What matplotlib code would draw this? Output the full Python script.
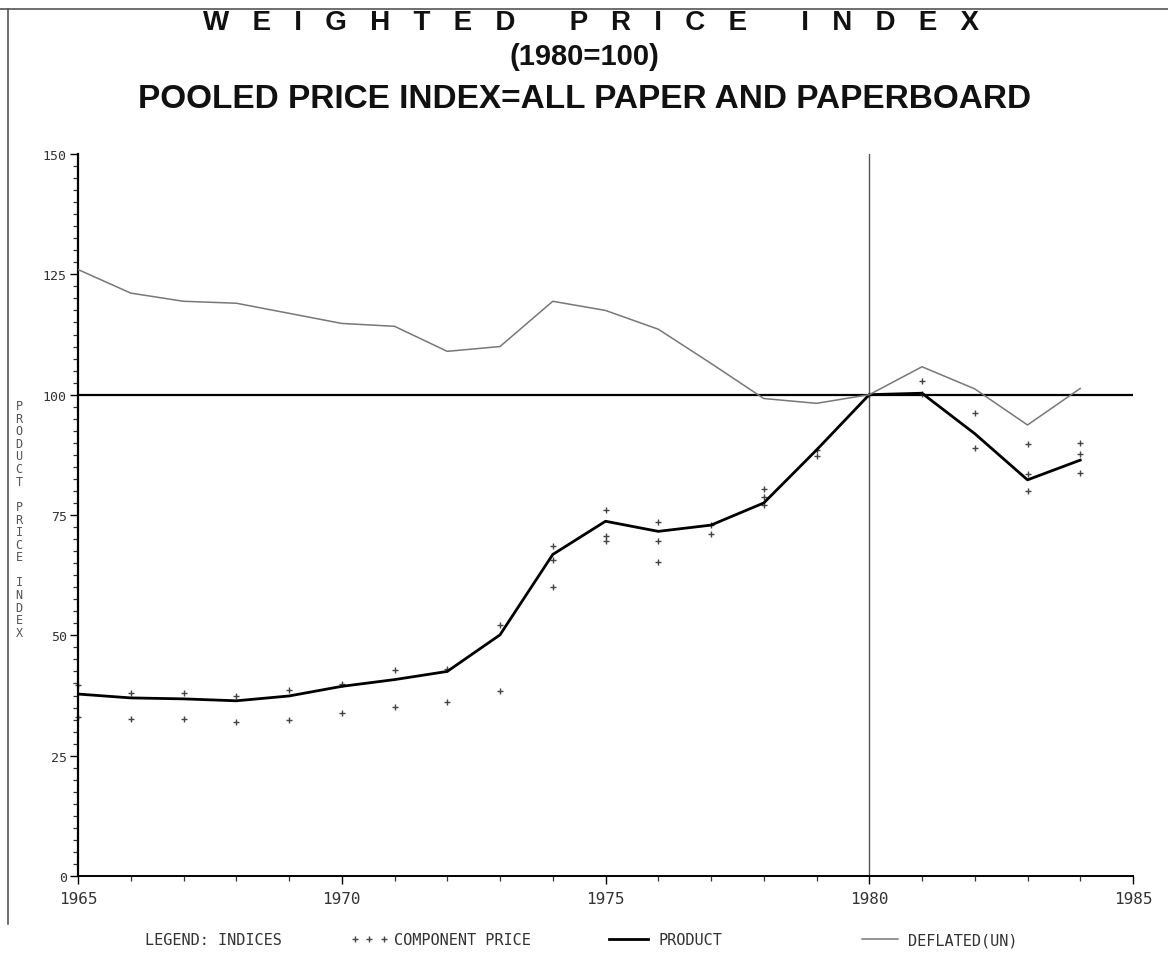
import numpy as np
import matplotlib
matplotlib.use("Agg")
import matplotlib.pyplot as plt
from matplotlib.lines import Line2D
from matplotlib.ticker import MultipleLocator

# --- data ---
years = [1965, 1966, 1967, 1968, 1969, 1970, 1971, 1972, 1973, 1974,
         1975, 1976, 1977, 1978, 1979, 1980, 1981, 1982, 1983, 1984]

product = [37.8, 37.0, 36.8, 36.4, 37.4, 39.4, 40.8, 42.5, 50.1, 66.8,
           73.7, 71.6, 72.9, 77.5, 88.5, 100.0, 100.3, 91.9, 82.3, 86.4]

deflated = [126.0, 121.1, 119.4, 119.0, 116.9, 114.8, 114.2, 109.0, 110.0, 119.4,
            117.5, 113.6, 106.5, 99.2, 98.2, 100.0, 105.8, 101.2, 93.7, 101.3]

# component price indices (several per year)
comp_years = [1965, 1965, 1966, 1966, 1967, 1967, 1968, 1968, 1969, 1969,
              1970, 1970, 1971, 1971, 1972, 1972, 1973, 1973,
              1974, 1974, 1974, 1975, 1975, 1975, 1976, 1976, 1976,
              1977, 1977, 1978, 1978, 1978, 1979, 1979, 1980,
              1981, 1981, 1982, 1982, 1983, 1983, 1983, 1984, 1984, 1984]
comp_values = [39.7, 33.0, 38.0, 32.6, 38.0, 32.6, 37.4, 31.9, 38.6, 32.4,
               39.9, 33.8, 42.8, 35.1, 43.0, 36.1, 52.2, 38.4,
               68.5, 65.6, 60.1, 76.0, 70.6, 69.5, 73.5, 69.5, 65.3,
               72.9, 71.0, 80.4, 78.7, 77.0, 88.5, 87.3, 100.0,
               102.9, 100.2, 96.2, 88.9, 89.8, 83.5, 80.0, 90.0, 87.7, 83.7]

y_ticks = [0, 25, 50, 75, 100, 125, 150]
x_ticks = [1965, 1970, 1975, 1980, 1985]
ylabel_text = "PRODUCT PRICE INDEX"

W, H = 1168, 970
fig = plt.figure(figsize=(W / 100, H / 100), dpi=100)
ax = fig.add_axes([78 / W, 1 - 877 / H, (1133 - 78) / W, (877 - 155) / H])

mono = "DejaVu Sans Mono"
sans = ["Liberation Sans", "DejaVu Sans"]

# reference lines
ax.axhline(100, color="black", lw=1.6, zorder=1)
ax.axvline(1980, color="#555555", lw=1.0, zorder=1)

# series
ax.plot(comp_years, comp_values, linestyle="none", marker="+", ms=5, mew=1.0,
        color="#444444", zorder=2, clip_on=False, label="COMPONENT PRICE")
ax.plot(years, product, color="black", lw=2.0, zorder=3, label="PRODUCT")
ax.plot(years, deflated, color="#777777", lw=1.1, zorder=3, label="DEFLATED(UN)")

ax.set_xlim(1965, 1985)
ax.set_ylim(0, 150)
ax.set_xticks(x_ticks)
ax.set_yticks(y_ticks)
ax.xaxis.set_minor_locator(MultipleLocator(1))
ax.yaxis.set_minor_locator(MultipleLocator(2.5))
ax.tick_params(axis="both", which="major", direction="out", length=6, width=1.0,
               color="black", labelcolor="#333333")
ax.tick_params(axis="both", which="minor", direction="out", length=3.5, width=0.9,
               color="#333333")
for lab in ax.get_xticklabels():
    lab.set_family(mono)
    lab.set_fontsize(11.5)
for lab in ax.get_yticklabels():
    lab.set_family(mono)
    lab.set_fontsize(9.5)
ax.tick_params(axis="x", pad=5)
ax.tick_params(axis="y", pad=2)

for side in ["top", "right"]:
    ax.spines[side].set_visible(False)
ax.spines["left"].set_linewidth(1.6)
ax.spines["bottom"].set_linewidth(1.4)

# stacked vertical axis label
fig.text(19 / W, 1 - 520 / H, "\n".join(ylabel_text), family=mono, fontsize=8.5,
         color="#555555", ha="center", va="center", linespacing=0.96)

# titles
fig.text(591 / W, 1 - 23 / H,
         "W   E   I   G   H   T   E   D       P   R   I   C   E       I   N   D   E   X",
         family=sans, fontsize=20, fontweight="bold", ha="center", va="center",
         color="#111111")
fig.text(584 / W, 1 - 57 / H, "(1980=100)", family=sans, fontsize=21,
         fontweight="bold", ha="center", va="center", color="#111111")
fig.text(585 / W, 1 - 99 / H, "POOLED PRICE INDEX=ALL PAPER AND PAPERBOARD",
         family=sans, fontsize=24, fontweight="bold", ha="center", va="center",
         color="#111111")

# legend row
leg_y = 1 - 941 / H
leg_font = {"family": mono, "size": 11}
fig.text(145 / W, leg_y, "LEGEND: INDICES", family=mono, fontsize=11,
         color="#333333", ha="left", va="center")
h_comp = Line2D([], [], linestyle="none", marker="+", ms=5, mew=1.0, color="#444444")
h_prod = Line2D([], [], color="black", lw=2.0)
h_defl = Line2D([], [], color="#777777", lw=1.1)
entries = [(h_comp, "COMPONENT PRICE", 350, 2.5),
           (h_prod, "PRODUCT", 604, 3.2),
           (h_defl, "DEFLATED(UN)", 857, 3.0)]
for handle, text, x0, hl in entries:
    leg = fig.legend([handle], [text], loc="center left",
                     bbox_to_anchor=(x0 / W, leg_y), frameon=False, numpoints=3,
                     borderpad=0, borderaxespad=0, handlelength=hl,
                     handletextpad=0.35, prop=leg_font)
    for t in leg.get_texts():
        t.set_color("#333333")

# scanned page edge
fig.add_artist(Line2D([0, 1], [1 - 10 / H, 1 - 10 / H], transform=fig.transFigure,
                      color="#555555", lw=1.2))
fig.add_artist(Line2D([8 / W, 8 / W], [1 - 10 / H, 1 - 925 / H], transform=fig.transFigure,
                      color="#555555", lw=1.2))

fig.savefig("out.png", dpi=100)
